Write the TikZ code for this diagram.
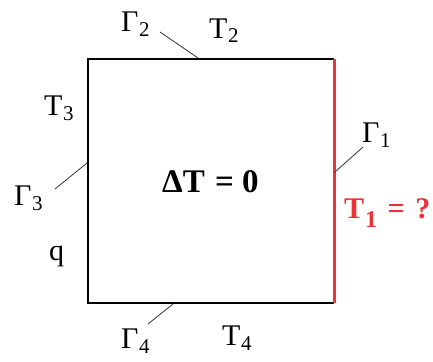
\documentclass[tikz,border=0pt]{standalone}
\usepackage{fontspec}
\setmainfont{Liberation Serif}
\definecolor{myred}{RGB}{237,50,55}
\newcommand\mysub[1]{\kern0.5pt\raisebox{-5pt}{\fontsize{21}{21}\selectfont #1}}
\newcommand\mybsub[1]{\kern1pt\raisebox{-9pt}{\fontsize{24}{24}\selectfont\bfseries #1}}
\begin{document}
\begin{tikzpicture}[x=1pt,y=-1pt,
  lbl/.style={font=\fontsize{30}{32}\selectfont, inner sep=0pt, anchor=base west},
  leader/.style={draw=black!80, line width=0.8pt}]
\useasboundingbox (0,0) rectangle (433,361);
\coordinate (tl) at (88,59);
\coordinate (tr) at (334,59);
\coordinate (br) at (334,303);
\coordinate (bl) at (88,303);
\draw[line width=2pt] (tr) -- (tl) -- (bl) -- (br);
\draw[myred, line width=3pt] (tr) -- (br);
% labels
\node[lbl] (g2) at (121,32) {Γ\mysub{2}};
\node[lbl] (t2) at (209,38) {T\mysub{2}};
\node[lbl] (g1) at (362,142) {Γ\mysub{1}};
\node[lbl] (t3) at (44,115) {T\mysub{3}};
\node[lbl] (g3) at (14,205) {Γ\mysub{3}};
\node[lbl] (q) at (49,260) {q};
\node[lbl] (g4) at (121,348) {Γ\mysub{4}};
\node[lbl] (t4) at (222,345) {T\mysub{4}};
\node[lbl, font=\fontsize{33}{36}\selectfont\bfseries] (lap) at (162,192) {ΔT\kern2pt{} = 0};
\node[lbl, font=\fontsize{30}{32}\selectfont\bfseries, text=myred] (t1) at (344,218) {T\mybsub{1}\kern3pt{} =\kern3pt{} ?};
% leaders
\coordinate (a2) at (160,32); \coordinate (b2) at (198,58);
\coordinate (a1) at (363,147); \coordinate (b1) at (335,172);
\coordinate (a3) at (55,189); \coordinate (b3) at (87,163);
\coordinate (a4) at (148,324); \coordinate (b4) at (173,304);
\draw[leader] (a2) -- (b2);
\draw[leader] (a1) -- (b1);
\draw[leader] (a3) -- (b3);
\draw[leader] (a4) -- (b4);
\end{tikzpicture}
\end{document}
